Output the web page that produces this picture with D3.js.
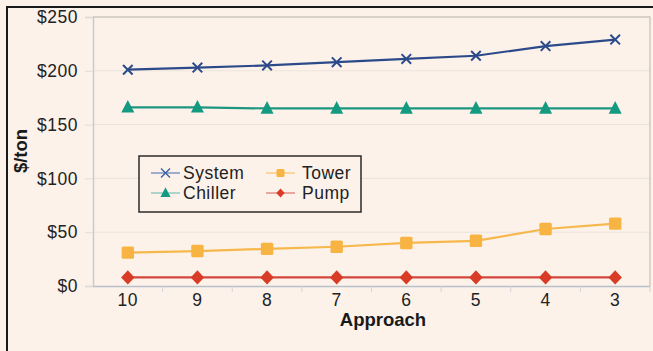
<!DOCTYPE html>
<html>
<head>
<meta charset="utf-8">
<script src="https://cdn.jsdelivr.net/npm/d3@7/dist/d3.min.js"></script>
<style>
  html, body { margin: 0; padding: 0; background: #fcf2ea; }
  svg { display: block; }
</style>
</head>
<body>
<svg id="chart" width="653" height="351"></svg>
<script>
// Cost per ton of cooling versus tower approach temperature
const approach = ["10", "9", "8", "7", "6", "5", "4", "3"];
const systemCost = [201, 203, 205, 208, 211, 214, 223, 229];
const chillerCost = [166, 166, 165, 165, 165, 165, 165, 165];
const towerCost = [31, 32.5, 34.5, 36.5, 40, 42, 53, 58];
const pumpCost = [8, 8, 8, 8, 8, 8, 8, 8];
const yTicks = [0, 50, 100, 150, 200, 250];

const svg = d3.select("#chart");
const W = 653, H = 351;
const m = { left: 93, right: 3, top: 17, bottom: 64 };
const font = "'Liberation Sans', Arial, Helvetica, sans-serif";

// page background and outer frame
svg.append("rect").attr("width", W).attr("height", H).attr("fill", "#fcf2ea");
svg.append("path")
  .attr("d", `M7,${H + 2}V7H${W + 2}`)
  .attr("fill", "none").attr("stroke", "#1a1a1a").attr("stroke-width", 2);

const x = d3.scaleBand().domain(approach).range([m.left, W - m.right]);
const y = d3.scaleLinear().domain([0, 250]).range([H - m.bottom - 1, m.top]);

// horizontal gridlines
svg.append("g").selectAll("line").data(yTicks.slice(1)).join("line")
  .attr("x1", m.left).attr("x2", W - m.right)
  .attr("y1", d => y(d)).attr("y2", d => y(d))
  .attr("stroke", "#ebe3db").attr("stroke-width", 1);

// plot frame (top and right)
svg.append("path")
  .attr("d", `M${m.left},${y(250)}H${W - m.right}V${y(0)}`)
  .attr("fill", "none").attr("stroke", "#cfcac4").attr("stroke-width", 1.5);

// y axis
const yAxis = svg.append("g").attr("transform", `translate(${m.left},0)`)
  .call(d3.axisLeft(y).tickValues(yTicks).tickSize(8).tickPadding(7)
    .tickFormat(d => "$" + d));
yAxis.select(".domain").attr("stroke", "#c9c9cc").attr("stroke-width", 1.5);
yAxis.selectAll(".tick line").attr("stroke", "#e3ddd6");
yAxis.selectAll("text").attr("font-family", font).attr("font-size", 17.5)
  .attr("letter-spacing", 0.5).attr("fill", "#222");

// x axis
const xAxis = svg.append("g").attr("transform", `translate(0,${y(0)})`)
  .call(d3.axisBottom(x).tickSize(0).tickPadding(8));
xAxis.select(".domain").attr("stroke", "#b9c0cc").attr("stroke-width", 1.5);
xAxis.selectAll("text").attr("font-family", font).attr("font-size", 17.5)
  .attr("letter-spacing", 0.5).attr("fill", "#222");
// tick marks sit on the band boundaries
xAxis.append("g").selectAll("line").data(approach.slice(1).concat(["end"])).join("line")
  .attr("x1", (d, i) => m.left + x.step() * (i + 1))
  .attr("x2", (d, i) => m.left + x.step() * (i + 1))
  .attr("y1", 0).attr("y2", 6)
  .attr("stroke", "#d4d4da").attr("stroke-width", 1);

// axis titles
svg.append("text")
  .attr("x", 383).attr("y", 326).attr("text-anchor", "middle")
  .attr("font-family", font).attr("font-size", 18.5).attr("font-weight", "bold")
  .attr("fill", "#1a1a1a").text("Approach");
svg.append("text")
  .attr("transform", "translate(27,151) rotate(-90)").attr("text-anchor", "middle")
  .attr("font-family", font).attr("font-size", 18.5).attr("font-weight", "bold")
  .attr("fill", "#1a1a1a").text("$/ton");

// marker shapes
function marker(g, kind, color, s) {
  if (kind === "x") {
    g.append("path")
      .attr("d", `M${-s},${-s}L${s},${s}M${-s},${s}L${s},${-s}`)
      .attr("stroke", color).attr("stroke-width", 2).attr("fill", "none");
  } else if (kind === "tri") {
    g.append("path")
      .attr("d", `M0,${-s * 1.15}L${s},${s * 0.8}L${-s},${s * 0.8}Z`)
      .attr("fill", color);
  } else if (kind === "sq") {
    g.append("rect").attr("x", -s).attr("y", -s).attr("width", 2 * s).attr("height", 2 * s)
      .attr("rx", 1.5).attr("fill", color);
  } else if (kind === "dia") {
    g.append("path")
      .attr("d", `M0,${-s * 1.1}L${s * 1.05},0L0,${s * 1.1}L${-s * 1.05},0Z`)
      .attr("fill", color);
  }
}

const series = [
  { name: "Tower", values: towerCost, line: "#f6b84c", mark: "#f7b442", kind: "sq", size: 6.2, legendLine: "#f7c36c" },
  { name: "Pump", values: pumpCost, line: "#d4473c", mark: "#d93c26", kind: "dia", size: 6.4, legendLine: "#e0766b" },
  { name: "Chiller", values: chillerCost, line: "#1d9680", mark: "#139a80", kind: "tri", size: 6.5, legendLine: "#78c3b4" },
  { name: "System", values: systemCost, line: "#2c4a8a", mark: "#2c4a8a", kind: "x", size: 4.8, legendLine: "#5f7fbb" }
];

const line = d3.line()
  .x((d, i) => x(approach[i]) + x.bandwidth() / 2)
  .y(d => y(d));

series.forEach(s => {
  svg.append("path").datum(s.values)
    .attr("d", line).attr("fill", "none")
    .attr("stroke", s.line).attr("stroke-width", 2.2);
  s.values.forEach((v, i) => {
    const g = svg.append("g")
      .attr("transform", `translate(${x(approach[i]) + x.bandwidth() / 2},${y(v)})`);
    marker(g, s.kind, s.mark, s.size);
  });
});

// legend
const leg = svg.append("g").attr("transform", "translate(139,156)");
leg.append("rect").attr("width", 222).attr("height", 56)
  .attr("fill", "#fcf2ea").attr("stroke", "#2a2a2a").attr("stroke-width", 1.5);
const legendItems = [
  { s: series[3], col: 0, row: 0 },
  { s: series[2], col: 0, row: 1 },
  { s: series[0], col: 1, row: 0 },
  { s: series[1], col: 1, row: 1 }
];
legendItems.forEach(({ s, col, row }) => {
  const gx = 12 + col * 115, gy = 17 + row * 20;
  const g = leg.append("g").attr("transform", `translate(${gx},${gy})`);
  g.append("line").attr("x1", 0).attr("x2", 29).attr("y1", 0).attr("y2", 0)
    .attr("stroke", s.legendLine).attr("stroke-width", 1.2);
  const mg = g.append("g").attr("transform", "translate(14.5,0)");
  const sz = s.kind === "x" ? 4.5 : s.kind === "tri" ? 5 : 4;
  if (s.kind === "x") {
    mg.append("path").attr("d", `M${-sz},${-sz}L${sz},${sz}M${-sz},${sz}L${sz},${-sz}`)
      .attr("stroke", "#3a5ba5").attr("stroke-width", 1.3).attr("fill", "none");
  } else {
    marker(mg, s.kind, s.mark, sz);
  }
  g.append("text").attr("x", col === 0 ? 32 : 36).attr("y", 6)
    .attr("font-family", font).attr("font-size", 17.5).attr("letter-spacing", 0.5)
    .attr("fill", "#222").text(s.name);
});
</script>
</body>
</html>
